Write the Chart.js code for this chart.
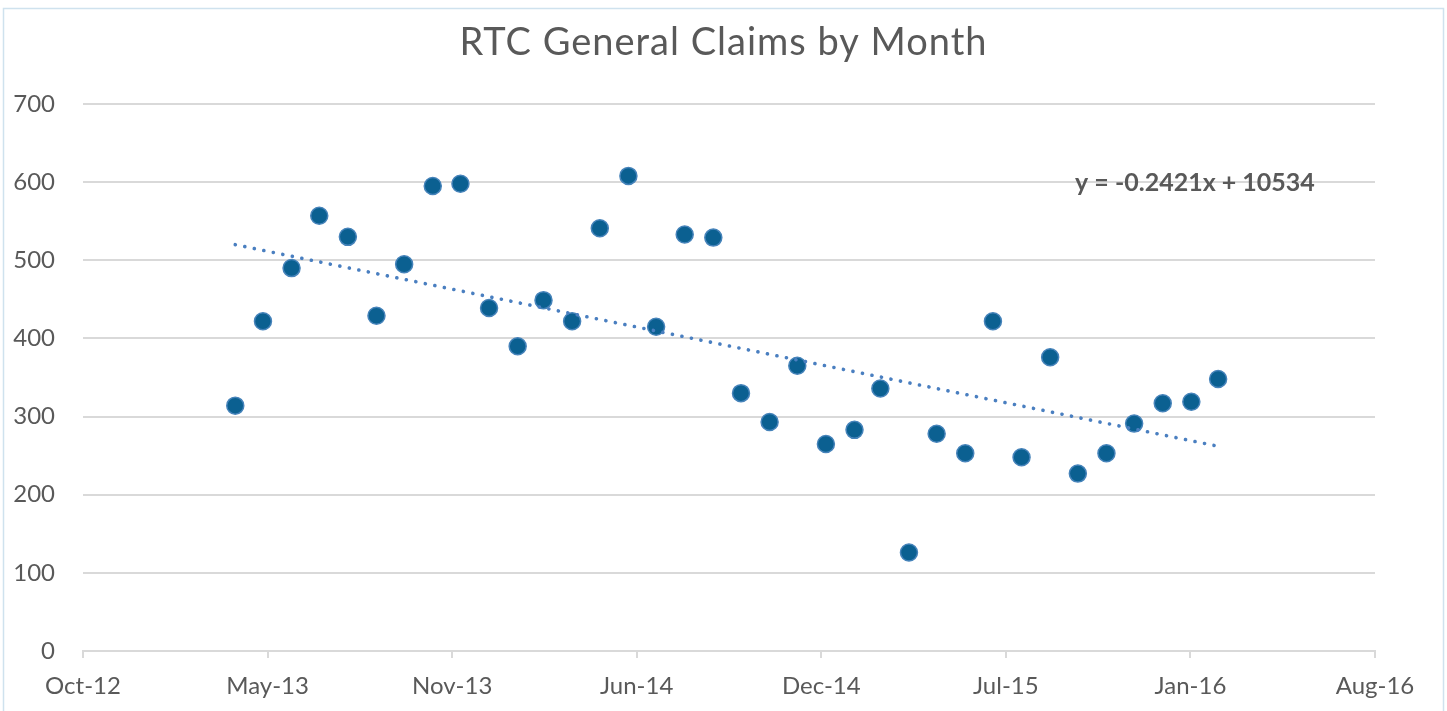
<!DOCTYPE html>
<html>
<head>
<meta charset="utf-8">
<script src="https://cdn.jsdelivr.net/npm/chart.js@4/dist/chart.umd.min.js"></script>
<style>
  html, body { margin: 0; padding: 0; background: #ffffff; }
  #wrap { width: 1447px; height: 711px; }
</style>
</head>
<body>
<div id="wrap"><canvas id="c" width="1447" height="711"></canvas></div>
<script>
// ---- Data ----
const months = [
  '2013-04','2013-05','2013-06','2013-07','2013-08','2013-09','2013-10','2013-11','2013-12',
  '2014-01','2014-02','2014-03','2014-04','2014-05','2014-06','2014-07','2014-08','2014-09','2014-10','2014-11','2014-12',
  '2015-01','2015-02','2015-03','2015-04','2015-05','2015-06','2015-07','2015-08','2015-09','2015-10','2015-11','2015-12',
  '2016-01','2016-02','2016-03'
];
const claims = [
  314, 422, 490, 557, 530, 429, 495, 595, 598,
  439, 390, 449, 422, 541, 608, 415, 533, 529, 330, 293, 365,
  265, 283, 336, 126, 278, 253, 422, 248, 376, 227, 253, 291,
  317, 319, 348
];
// linear trendline values at the first and last month
const trendValues = [520, 262];
const trendLabel = 'y = -0.2421x + 10534';
const titleText = 'RTC General Claims by Month';
// x axis: Excel date serial numbers and their labels
const xTickValues = [41200, 41400, 41600, 41800, 42000, 42200, 42400, 42600];
const xTickLabels = ['Oct-12', 'May-13', 'Nov-13', 'Jun-14', 'Dec-14', 'Jul-15', 'Jan-16', 'Aug-16'];
const yTickValues = [0, 100, 200, 300, 400, 500, 600, 700];

// ---- helpers ----
function excelSerial(ym) {
  const [y, m] = ym.split('-').map(Number);
  return Math.round((Date.UTC(y, m - 1, 1) - Date.UTC(1899, 11, 30)) / 86400000);
}
const xs = months.map(excelSerial);
const points = claims.map((v, i) => ({ x: xs[i], y: v }));
const trendPoints = [
  { x: xs[0], y: trendValues[0] },
  { x: xs[xs.length - 1], y: trendValues[1] }
];

const GRAY = '#595959';
const GRID = '#d9d9d9';
const FONT = 'Lato, "Open Sans", sans-serif';

const framePlugin = {
  id: 'frame',
  beforeDraw(chart) {
    const ctx = chart.ctx;
    ctx.save();
    ctx.fillStyle = '#ffffff';
    ctx.fillRect(0, 0, chart.width, chart.height);
    ctx.strokeStyle = '#cfe2ee';
    ctx.lineWidth = 1.5;
    ctx.strokeRect(3.5, 8.5, 1440, 740);
    ctx.restore();
  }
};

// centre the title on the whole frame and give it slightly wider spacing
const titleSpacingPlugin = {
  id: 'titleSpacing',
  afterInit(chart) {
    const tb = chart.titleBlock;
    if (!tb || tb._spaced) return;
    const orig = tb.draw;
    tb.draw = function (...args) {
      const ctx = this.ctx;
      ctx.save();
      ctx.translate(36, 0);
      ctx.letterSpacing = '1px';
      orig.apply(this, args);
      ctx.restore();
    };
    tb._spaced = true;
  }
};

const equationPlugin = {
  id: 'equation',
  afterDatasetsDraw(chart) {
    const ctx = chart.ctx;
    const xS = chart.scales.x, yS = chart.scales.y;
    ctx.save();
    ctx.font = 'bold 25px ' + FONT;
    ctx.fillStyle = GRAY;
    ctx.textAlign = 'left';
    ctx.textBaseline = 'middle';
    ctx.fillText(trendLabel, xS.getPixelForValue(42275), yS.getPixelForValue(600) + 1);
    ctx.restore();
  }
};

new Chart(document.getElementById('c'), {
  type: 'scatter',
  data: {
    datasets: [
      {
        type: 'line',
        label: 'Linear trend',
        data: trendPoints,
        borderColor: '#4a7fc0',
        borderWidth: 3.6,
        borderDash: [0.1, 9.6],
        borderCapStyle: 'round',
        pointRadius: 0,
        fill: false,
        tension: 0,
        order: 0
      },
      {
        label: 'Claims',
        data: points,
        pointRadius: 8.5,
        pointHoverRadius: 8.5,
        pointBackgroundColor: '#0b6091',
        pointBorderColor: '#4683ba',
        pointBorderWidth: 1.5,
        order: 1
      }
    ]
  },
  options: {
    responsive: false,
    animation: false,
    devicePixelRatio: 1,
    layout: { padding: { left: 0, right: 72, top: 0, bottom: 0 } },
    plugins: {
      legend: { display: false },
      tooltip: { enabled: false },
      title: {
        display: true,
        text: titleText,
        color: GRAY,
        font: { family: FONT, size: 38, weight: 'normal', lineHeight: 1.2 },
        padding: { top: 20, bottom: 38.4 }
      }
    },
    scales: {
      x: {
        type: 'linear',
        min: 41200,
        max: 42600,
        afterBuildTicks(scale) { scale.ticks = xTickValues.map(v => ({ value: v })); },
        afterFit(scale) { scale.height = 60; },
        ticks: {
          autoSkip: false,
          maxRotation: 0,
          color: GRAY,
          font: { family: FONT, size: 24 },
          padding: 14,
          callback: (v, i) => xTickLabels[i]
        },
        grid: { drawOnChartArea: false, drawTicks: true, tickLength: 7, color: GRID, lineWidth: 2 },
        border: { display: true, color: GRID, width: 2 }
      },
      y: {
        min: 0,
        max: 700,
        afterBuildTicks(scale) { scale.ticks = yTickValues.map(v => ({ value: v })); },
        afterFit(scale) { scale.width = 83; },
        ticks: {
          color: GRAY,
          font: { family: FONT, size: 24 },
          padding: 28
        },
        grid: { drawTicks: false, color: GRID, lineWidth: 2 },
        border: { display: false }
      }
    }
  },
  plugins: [framePlugin, titleSpacingPlugin, equationPlugin]
});
</script>
</body>
</html>
